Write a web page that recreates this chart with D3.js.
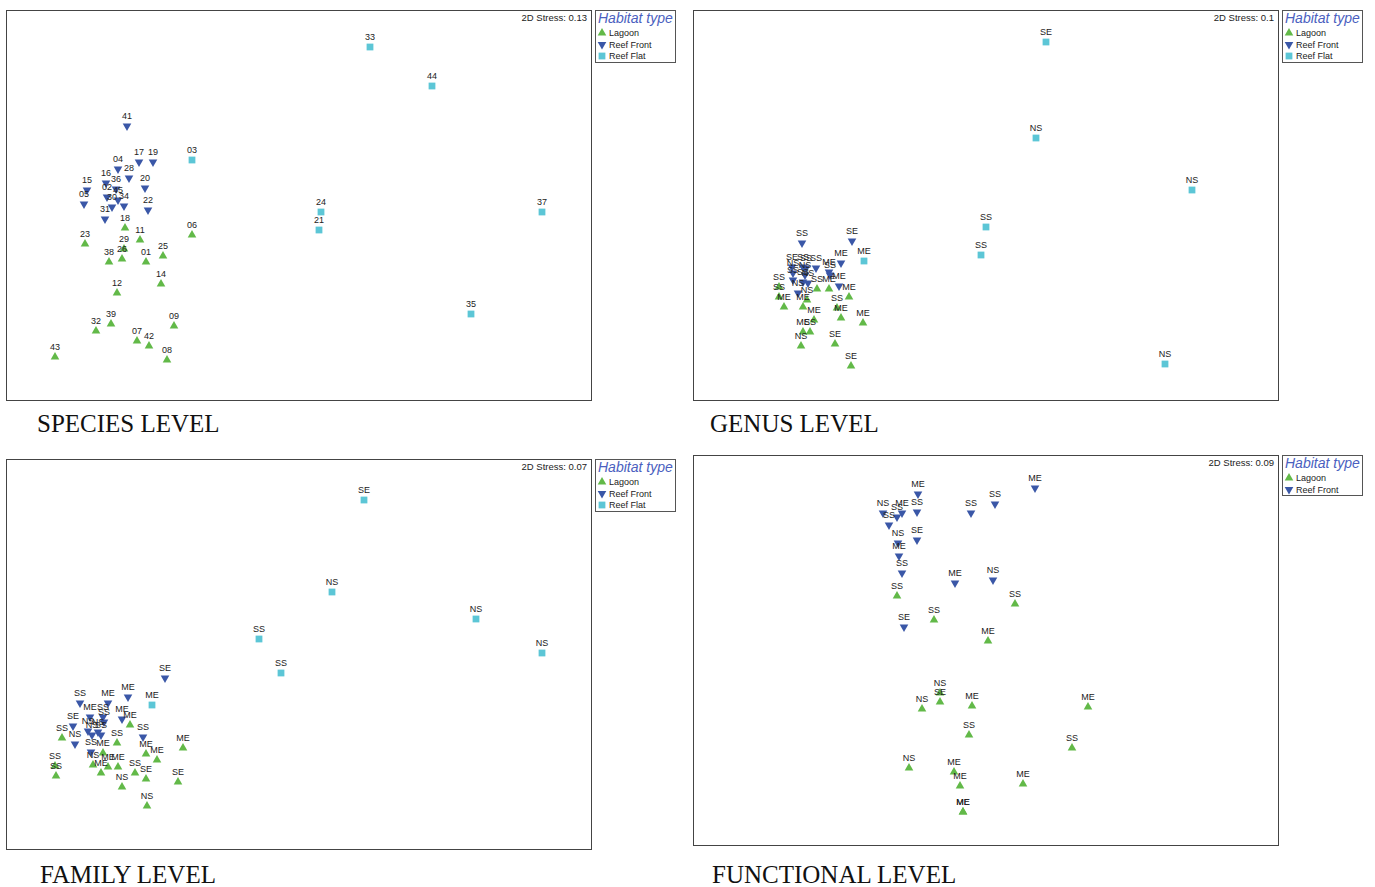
<!DOCTYPE html>
<html>
<head>
<meta charset="utf-8">
<script src="https://cdn.jsdelivr.net/npm/d3@7"></script>
<style>
  html, body { margin: 0; padding: 0; background: #fff; }
  svg { display: block; }
</style>
</head>
<body>
<svg id="chart" width="1375" height="887"></svg>
<script>
// ---- DATA: NMDS ordination scores (arbitrary units) ----
// each entry: [label, MDS1, MDS2]
const speciesLagoon = [
  ["18",119,218],["11",134,230],["06",186,225],["23",79,234],["29",118,239],["26",116,249],
  ["38",103,252],["01",140,252],["25",157,246],["14",155,274],["12",111,283],["39",105,314],
  ["32",90,321],["09",168,316],["07",131,331],["42",143,336],["08",161,350],["43",49,347]
];
const speciesReefFront = [
  ["41",121,116],["17",133,152],["19",147,152],["04",112,159],["28",123,168],["20",139,178],
  ["16",100,173],["36",110,179],["15",81,180],["05",78,194],["02",101,187],["45",112,190],
  ["30",106,197],["34",118,196],["31",99,209],["22",142,200]
];
const speciesReefFlat = [
  ["33",364,37],["44",426,76],["03",186,150],["24",315,202],["21",313,220],["37",536,202],["35",465,304]
];

const genusLagoon = [
  ["SS",86,277],["SS",86,287],["ME",91,297],["ME",110,297],["NS",114,290],["SS",124,279],
  ["ME",136,279],["ME",156,287],["SS",144,298],["ME",148,308],["ME",170,313],["ME",121,310],
  ["ME",110,322],["SS",117,322],["NS",108,336],["SE",142,334],["SE",158,356]
];
const genusReefFront = [
  ["SS",109,233],["SE",159,231],["ME",148,253],["ME",136,262],["SE",99,257],["SS",110,257],
  ["SS",113,258],["SS",123,258],["NS",100,263],["NS",112,265],["SS",137,265],["SS",100,270],
  ["SS",110,272],["NS",115,273],["ME",146,276],["NS",105,283]
];
const genusReefFlat = [
  ["SE",353,32],["NS",343,128],["NS",499,180],["SS",293,217],["SS",288,245],["NS",472,354],["ME",171,251]
];

const familyLagoon = [
  ["ME",124,266],["SS",56,279],["SS",111,284],["ME",97,294],["SS",49,307],["SS",50,317],
  ["NS",87,306],["ME",95,314],["ME",102,308],["ME",112,308],["ME",140,295],["ME",151,301],
  ["ME",177,289],["SS",129,314],["SE",140,320],["SE",172,323],["NS",116,328],["NS",141,347]
];
const familyReefFront = [
  ["SE",159,219],["ME",122,238],["SS",74,244],["ME",102,244],["ME",84,258],["SS",97,258],
  ["SS",98,263],["ME",116,260],["SE",67,267],["NS",82,272],["NS",86,276],["NS",92,273],
  ["SS",95,276],["SS",137,278],["NS",69,285],["SS",85,293]
];
const familyReefFlat = [
  ["SE",358,41],["NS",326,133],["NS",470,160],["SS",253,180],["SS",275,214],["NS",536,194],["ME",146,246]
];

const functionalLagoon = [
  ["SS",204,141],["SS",241,165],["SS",322,149],["ME",295,186],["NS",247,238],["SE",247,247],
  ["NS",229,254],["ME",279,251],["ME",395,252],["SS",276,280],["SS",379,293],["NS",216,313],
  ["ME",261,317],["ME",267,331],["ME",330,329],["ME",270,357],["ME",270,357]
];
const functionalReefFront = [
  ["ME",225,39],["NS",190,58],["SS",204,62],["ME",209,58],["SS",224,57],["SS",196,70],
  ["NS",205,88],["SE",224,85],["ME",206,101],["SS",209,118],["SS",278,58],["SS",302,49],
  ["ME",342,33],["ME",262,128],["NS",300,125],["SE",211,172]
];

const panelTitles = ["SPECIES LEVEL", "GENUS LEVEL", "FAMILY LEVEL", "FUNCTIONAL LEVEL"];
const stressValues = ["0.13", "0.1", "0.07", "0.09"];
const habitatNames = ["Lagoon", "Reef Front", "Reef Flat"];

// ---- LAYOUT ----
const colors = { "Lagoon": "#62b948", "Reef Front": "#3a57a7", "Reef Flat": "#5cc6d6" };
const panels = [
  { x: 6,   y: 10,  title: panelTitles[0], tx: 37,  ty: 432, stress: stressValues[0],
    series: [["Lagoon", speciesLagoon], ["Reef Front", speciesReefFront], ["Reef Flat", speciesReefFlat]] },
  { x: 693, y: 10,  title: panelTitles[1], tx: 710, ty: 432, stress: stressValues[1],
    series: [["Lagoon", genusLagoon], ["Reef Front", genusReefFront], ["Reef Flat", genusReefFlat]] },
  { x: 6,   y: 459, title: panelTitles[2], tx: 40,  ty: 883, stress: stressValues[2],
    series: [["Lagoon", familyLagoon], ["Reef Front", familyReefFront], ["Reef Flat", familyReefFlat]] },
  { x: 693, y: 455, title: panelTitles[3], tx: 712, ty: 883, stress: stressValues[3],
    series: [["Lagoon", functionalLagoon], ["Reef Front", functionalReefFront]] }
];
const W = 585, H = 390;

const svg = d3.select("#chart");
const sym = {
  "Lagoon": d3.symbol().type(d3.symbolTriangle).size(32)(),
  "Reef Front": d3.symbol().type(d3.symbolTriangle).size(32)(),
  "Reef Flat": d3.symbol().type(d3.symbolSquare).size(46)()
};
function markerTransform(h, x, y) {
  return h === "Reef Front" ? `translate(${x},${y}) rotate(180)` : `translate(${x},${y})`;
}

panels.forEach(p => {
  const g = svg.append("g");
  const xs = d3.scaleLinear().domain([0, W]).range([p.x, p.x + W]);
  const ys = d3.scaleLinear().domain([0, H]).range([p.y, p.y + H]);

  g.append("rect").attr("x", p.x + 0.5).attr("y", p.y + 0.5).attr("width", W).attr("height", H)
    .attr("fill", "none").attr("stroke", "#444").attr("stroke-width", 1);

  g.append("text").attr("x", p.x + W - 4).attr("y", p.y + 11)
    .attr("text-anchor", "end").attr("font-family", "Liberation Sans, Arial, sans-serif")
    .attr("font-size", 9.5).attr("fill", "#222").text("2D Stress: " + p.stress);

  // markers
  p.series.forEach(([h, data]) => {
    g.selectAll(null).data(data).enter().append("path")
      .attr("d", sym[h])
      .attr("transform", d => markerTransform(h, xs(d[1]), ys(d[2])))
      .attr("fill", colors[h]);
  });
  // labels
  p.series.forEach(([h, data]) => {
    g.selectAll(null).data(data).enter().append("text")
      .attr("x", d => xs(d[1]))
      .attr("y", d => ys(d[2]) - 7)
      .attr("text-anchor", "middle")
      .attr("font-family", "Liberation Sans, Arial, sans-serif")
      .attr("font-size", 9).attr("fill", "#222")
      .text(d => d[0]);
  });

  // legend
  const lx = p.x + W + 4, ly = p.y;
  const n = p.series.length;
  const lh = n === 3 ? 52 : 40;
  const lw = 80;
  const lg = svg.append("g");
  lg.append("rect").attr("x", lx + 0.5).attr("y", ly + 0.5).attr("width", lw).attr("height", lh)
    .attr("fill", "#fff").attr("stroke", "#555").attr("stroke-width", 1);
  lg.append("text").attr("x", lx + 3).attr("y", ly + 12.5)
    .attr("font-family", "Liberation Sans, Arial, sans-serif").attr("font-style", "italic")
    .attr("font-size", 14).attr("fill", "#4b5fc0").text("Habitat type");
  p.series.forEach(([h], i) => {
    const cy = ly + 23 + i * 11.5;
    lg.append("path").attr("d", sym[h]).attr("transform", markerTransform(h, lx + 7, cy)).attr("fill", colors[h]);
    lg.append("text").attr("x", lx + 14).attr("y", cy + 3)
      .attr("font-family", "Liberation Sans, Arial, sans-serif").attr("font-size", 9)
      .attr("fill", "#222").text(h);
  });

  svg.append("text").attr("x", p.tx).attr("y", p.ty)
    .attr("font-family", "Liberation Serif, Times New Roman, serif").attr("font-size", 25)
    .attr("fill", "#111").text(p.title);
});
</script>
</body>
</html>
